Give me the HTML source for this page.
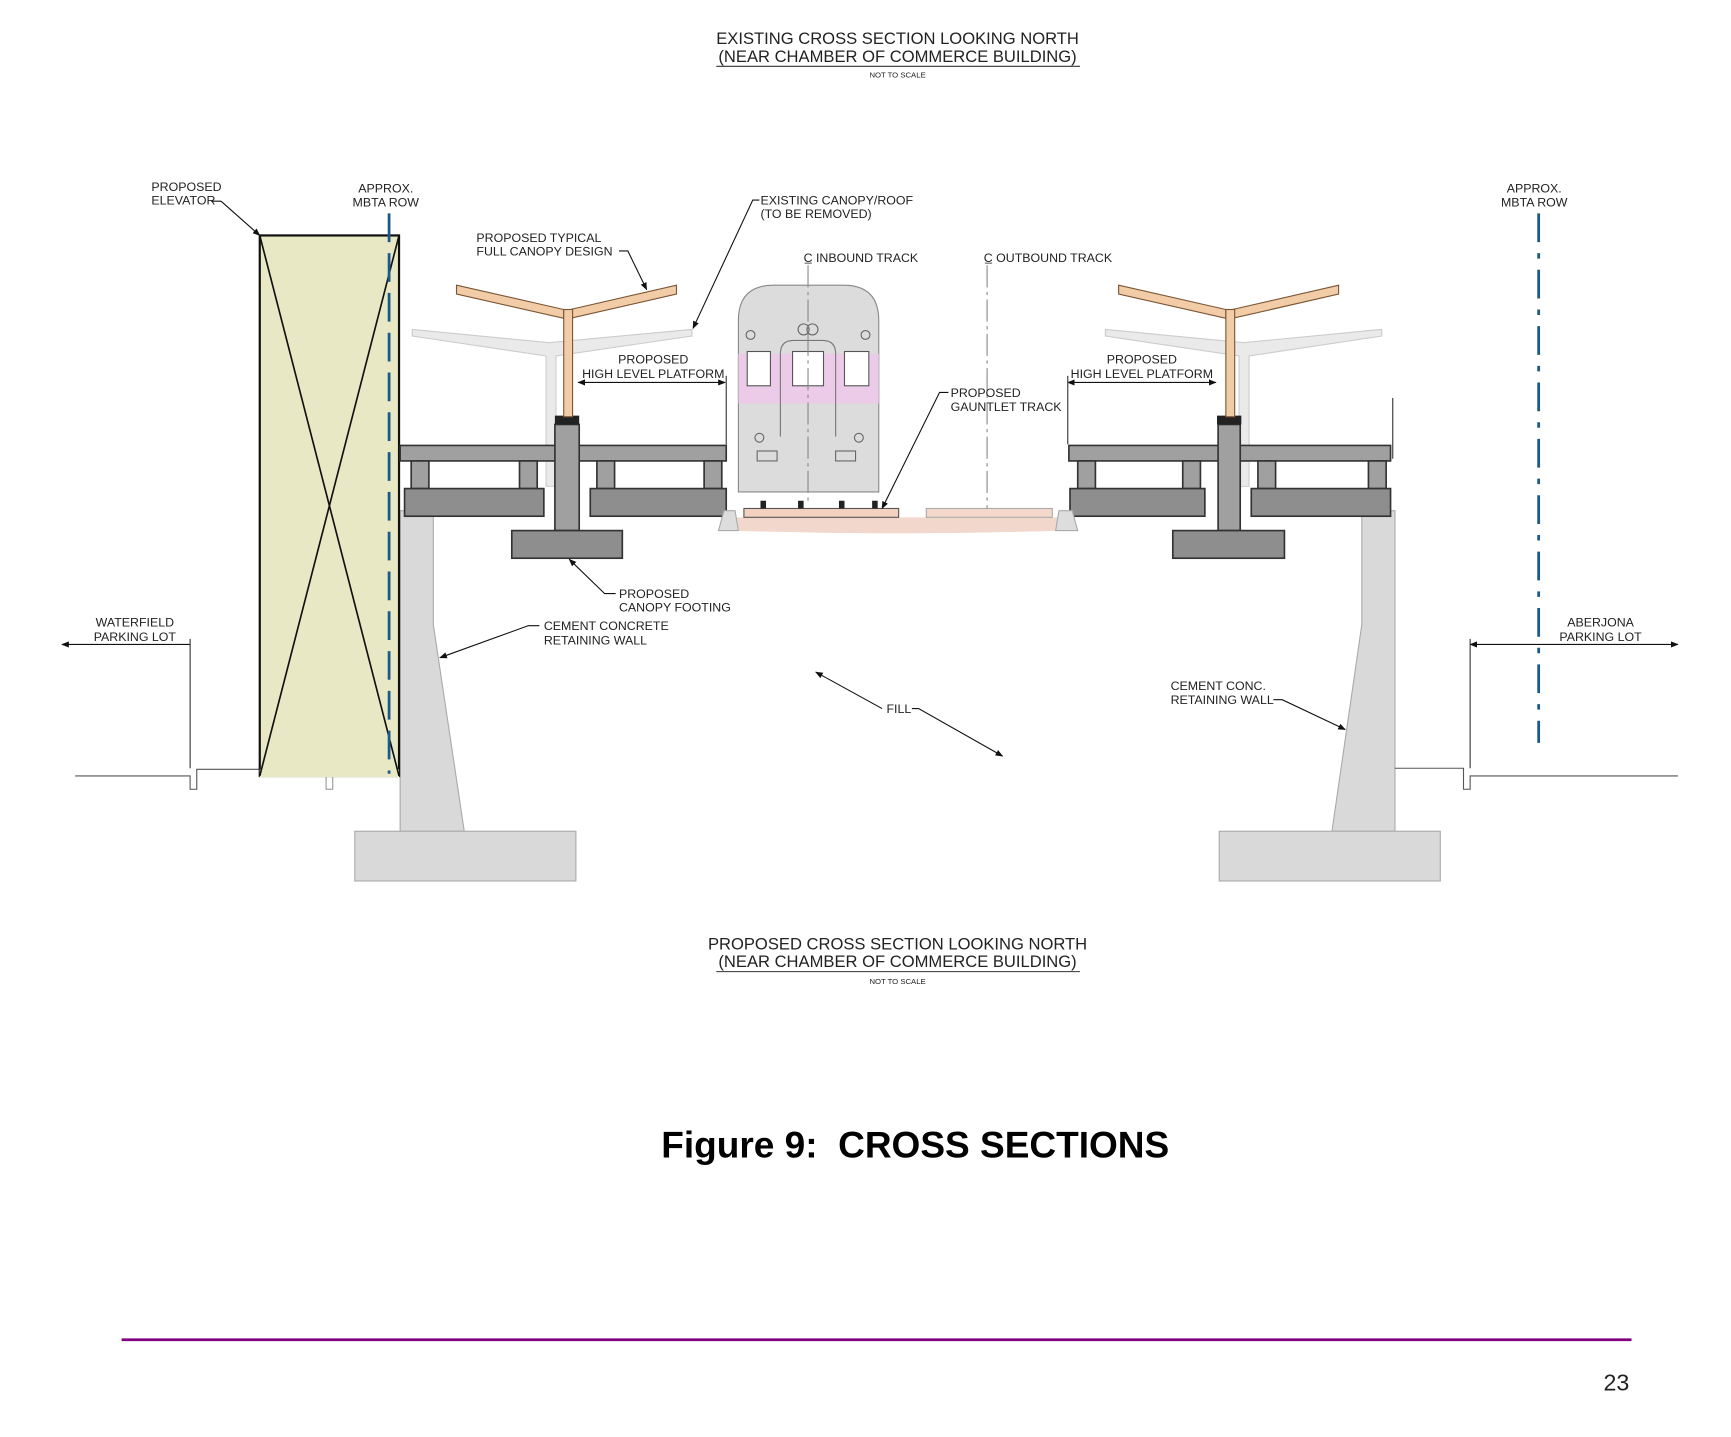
<!DOCTYPE html>
<html><head><meta charset="utf-8"><style>
html,body{margin:0;padding:0;background:#fff;width:1731px;height:1437px;overflow:hidden}
svg{display:block}
text{font-family:"Liberation Sans",sans-serif;fill:#222}
.s{font-size:11.2px}
</style></head><body>
<svg width="1731" height="1437" viewBox="0 0 1566 1300" preserveAspectRatio="none" xmlns="http://www.w3.org/2000/svg">
<defs>
<marker id="ar" viewBox="0 0 10 10" refX="9" refY="5" markerWidth="7" markerHeight="7" orient="auto-start-reverse"><path d="M0,1 L10,5 L0,9 z" fill="#111"/></marker>
</defs>
<text x="812" y="40" text-anchor="middle" font-size="15">EXISTING CROSS SECTION LOOKING NORTH</text>
<text x="812" y="56" text-anchor="middle" font-size="15">(NEAR CHAMBER OF COMMERCE BUILDING)</text>
<line x1="648" y1="60" x2="977" y2="60" stroke="#333" stroke-width="1"/>
<text x="812" y="70" text-anchor="middle" font-size="7">NOT TO SCALE</text>

<path d="M362,462 H392 V565 L420,752 H362 Z" fill="#d9d9d9" stroke="#aaa"/>
<rect x="321" y="752" width="200" height="45" fill="#d9d9d9" stroke="#aaa"/>
<path d="M1232,462 H1262 V752 H1205 L1232,565 Z" fill="#d9d9d9" stroke="#aaa"/>
<rect x="1103" y="752" width="200" height="45" fill="#d9d9d9" stroke="#aaa"/>

<polyline points="68,702 172,702 172,714 178,714 178,696 362,696" fill="none" stroke="#555" stroke-width="1"/>
<rect x="295" y="696" width="6" height="18" fill="#fff" stroke="#999"/>
<polyline points="1262,695 1324,695 1324,714 1330,714 1330,702 1518,702" fill="none" stroke="#555" stroke-width="1"/>

<rect x="235" y="213" width="126" height="489" fill="#e8e8c4" stroke="#111" stroke-width="2"/>
<rect x="235" y="696" width="126" height="7" fill="#e8e8c4"/>
<line x1="235" y1="213" x2="361" y2="702" stroke="#111" stroke-width="1.5"/>
<line x1="361" y1="213" x2="235" y2="702" stroke="#111" stroke-width="1.5"/>
<line x1="352" y1="193" x2="352" y2="700" stroke="#1a5a8a" stroke-width="2.5" stroke-dasharray="26,10"/>
<line x1="1392" y1="193" x2="1392" y2="672" stroke="#1a5a8a" stroke-width="2.5" stroke-dasharray="26,10,5,10"/>

<g fill="#eaeaea" stroke="#ccc">
<path d="M373,298 L497,310 L626,298 L626,304 L503,322 L503,440 L494,440 L494,322 L373,304 Z"/>
<path d="M1000,298 L1125,310 L1250,298 L1250,304 L1130,322 L1130,440 L1121,440 L1121,322 L1000,304 Z"/>
</g>

<g fill="#a0a0a0" stroke="#333" stroke-width="1.5">
<path d="M362,403 H657 V417 H362 Z"/>
<rect x="372" y="417" width="16" height="25"/><rect x="470" y="417" width="16" height="25"/>
<rect x="540" y="417" width="16" height="25"/><rect x="637" y="417" width="16" height="25"/>
<rect x="366" y="442" width="126" height="25" fill="#8e8e8e"/><rect x="534" y="442" width="123" height="25" fill="#8e8e8e"/>
<rect x="502" y="384" width="22" height="96"/>
<rect x="463" y="480" width="100" height="25" fill="#8e8e8e"/>
<path d="M967,403 H1258 V417 H967 Z"/>
<rect x="975" y="417" width="16" height="25"/><rect x="1070" y="417" width="16" height="25"/>
<rect x="1138" y="417" width="16" height="25"/><rect x="1238" y="417" width="16" height="25"/>
<rect x="968" y="442" width="122" height="25" fill="#8e8e8e"/><rect x="1132" y="442" width="126" height="25" fill="#8e8e8e"/>
<rect x="1102" y="384" width="20" height="96"/>
<rect x="1061" y="480" width="101" height="25" fill="#8e8e8e"/>
</g>
<rect x="502" y="376" width="22" height="8" fill="#222"/>
<rect x="1101" y="376" width="22" height="8" fill="#222"/>
<line x1="1260" y1="360" x2="1260" y2="415" stroke="#333"/>

<g fill="#f2cca6" stroke="#7a5535" stroke-width="1">
<path d="M413,258 L510,280 L510,288 L413,266 Z"/><path d="M516,280 L612,258 L612,266 L516,288 Z"/>
<rect x="510" y="280" width="8" height="97"/>
<path d="M1012,258 L1109,280 L1109,288 L1012,266 Z"/><path d="M1115,280 L1211,258 L1211,266 L1115,288 Z"/>
<rect x="1109" y="280" width="8" height="97"/>
</g>

<path d="M660,468 L960,468 L960,480 Q810,485 660,480 Z" fill="#f2d8cc"/>
<rect x="673" y="460" width="140" height="8" fill="#f4d0c0" stroke="#555"/>
<rect x="838" y="460" width="114" height="8" fill="#f4d8cc" stroke="#aaa"/>
<path d="M650,480 L655,462 L665,462 L668,480 Z" fill="#ddd" stroke="#aaa"/>
<path d="M955,480 L958,462 L970,462 L975,480 Z" fill="#ddd" stroke="#aaa"/>

<path d="M668,445 V290 Q668,258 700,258 H763 Q795,258 795,290 V445 Z" fill="#dcdcdc" stroke="#888"/>
<rect x="668" y="320" width="127" height="45" fill="#eccbe8"/>
<g fill="#fff" stroke="#555"><rect x="676" y="318" width="21" height="31"/><rect x="717" y="318" width="28" height="31"/><rect x="764" y="318" width="22" height="31"/></g>
<path d="M706,395 V320 Q706,308 718,308 H744 Q756,308 756,320 V395" fill="none" stroke="#777"/>
<g fill="none" stroke="#666"><circle cx="679" cy="303" r="4"/><circle cx="783" cy="303" r="4"/><circle cx="687" cy="396" r="4"/><circle cx="777" cy="396" r="4"/><circle cx="727" cy="298" r="5"/><circle cx="735" cy="298" r="5"/>
<rect x="685" y="408" width="18" height="9"/><rect x="756" y="408" width="18" height="9"/></g>
<line x1="731" y1="240" x2="731" y2="455" stroke="#888" stroke-dasharray="20,4,3,4"/>
<line x1="893" y1="240" x2="893" y2="460" stroke="#888" stroke-dasharray="20,4,3,4"/>
<g fill="#222"><rect x="688" y="453" width="5" height="7"/><rect x="722" y="453" width="5" height="7"/><rect x="759" y="453" width="5" height="7"/><rect x="789" y="453" width="5" height="7"/></g>

<text class="s" x="137" y="173">PROPOSED</text><text class="s" x="137" y="185">ELEVATOR</text>
<line x1="191" y1="182" x2="200" y2="182" stroke="#111"/><line x1="200" y1="182" x2="235" y2="213" stroke="#111" marker-end="url(#ar)"/>
<text class="s" x="349" y="174" text-anchor="middle">APPROX.</text><text class="s" x="349" y="187" text-anchor="middle">MBTA ROW</text>
<text class="s" x="1388" y="174" text-anchor="middle">APPROX.</text><text class="s" x="1388" y="187" text-anchor="middle">MBTA ROW</text>
<text class="s" x="688" y="185">EXISTING CANOPY/ROOF</text><text class="s" x="688" y="197">(TO BE REMOVED)</text>
<polyline points="687,181 681,181 627,297" fill="none" stroke="#111" marker-end="url(#ar)"/>
<text class="s" x="431" y="219">PROPOSED TYPICAL</text><text class="s" x="431" y="231">FULL CANOPY DESIGN</text>
<polyline points="560,227 568,227 585,262" fill="none" stroke="#111" marker-end="url(#ar)"/>
<text class="s" x="727" y="237">C̲ INBOUND TRACK</text>
<text class="s" x="890" y="237">C̲ OUTBOUND TRACK</text>
<text class="s" x="591" y="329" text-anchor="middle">PROPOSED</text><text class="s" x="591" y="342" text-anchor="middle">HIGH LEVEL PLATFORM</text>
<line x1="523" y1="346" x2="656" y2="346" stroke="#111" marker-start="url(#ar)" marker-end="url(#ar)"/>
<line x1="657" y1="340" x2="657" y2="402" stroke="#333"/>
<text class="s" x="1033" y="329" text-anchor="middle">PROPOSED</text><text class="s" x="1033" y="342" text-anchor="middle">HIGH LEVEL PLATFORM</text>
<line x1="966" y1="346" x2="1100" y2="346" stroke="#111" marker-start="url(#ar)" marker-end="url(#ar)"/>
<line x1="966" y1="340" x2="966" y2="402" stroke="#333"/>
<text class="s" x="860" y="359">PROPOSED</text><text class="s" x="860" y="372">GAUNTLET TRACK</text>
<polyline points="858,355 850,355 798,460" fill="none" stroke="#111" marker-end="url(#ar)"/>
<text class="s" x="560" y="541">PROPOSED</text><text class="s" x="560" y="553">CANOPY FOOTING</text>
<polyline points="557,537 547,537 515,506" fill="none" stroke="#111" marker-end="url(#ar)"/>
<text class="s" x="492" y="570">CEMENT CONCRETE</text><text class="s" x="492" y="583">RETAINING WALL</text>
<polyline points="488,566 478,566 398,595" fill="none" stroke="#111" marker-end="url(#ar)"/>
<text class="s" x="1059" y="624">CEMENT CONC.</text><text class="s" x="1059" y="637">RETAINING WALL</text>
<polyline points="1152,633 1160,633 1217,660" fill="none" stroke="#111" marker-end="url(#ar)"/>
<text class="s" x="802" y="645">FILL</text>
<line x1="798" y1="641" x2="738" y2="608" stroke="#111" marker-end="url(#ar)"/>
<polyline points="825,641 831,641 907,684" fill="none" stroke="#111" marker-end="url(#ar)"/>
<text class="s" x="122" y="567" text-anchor="middle">WATERFIELD</text><text class="s" x="122" y="580" text-anchor="middle">PARKING LOT</text>
<line x1="172" y1="583" x2="56" y2="583" stroke="#111" marker-end="url(#ar)"/>
<line x1="172" y1="578" x2="172" y2="695" stroke="#333"/>
<text class="s" x="1448" y="567" text-anchor="middle">ABERJONA</text><text class="s" x="1448" y="580" text-anchor="middle">PARKING LOT</text>
<line x1="1330" y1="583" x2="1518" y2="583" stroke="#111" marker-start="url(#ar)" marker-end="url(#ar)"/>
<line x1="1330" y1="578" x2="1330" y2="695" stroke="#333"/>

<text x="812" y="859" text-anchor="middle" font-size="15">PROPOSED CROSS SECTION LOOKING NORTH</text>
<text x="812" y="875" text-anchor="middle" font-size="15">(NEAR CHAMBER OF COMMERCE BUILDING)</text>
<line x1="648" y1="879" x2="977" y2="879" stroke="#333" stroke-width="1"/>
<text x="812" y="890" text-anchor="middle" font-size="7">NOT TO SCALE</text>

<text x="828" y="1047" text-anchor="middle" font-size="33.5" font-weight="bold" style="fill:#000">Figure 9:&#160; CROSS SECTIONS</text>
<line x1="110" y1="1212" x2="1476" y2="1212" stroke="#800080" stroke-width="2.5"/>
<text x="1474" y="1258" text-anchor="end" font-size="21">23</text>
</svg>
</body></html>
